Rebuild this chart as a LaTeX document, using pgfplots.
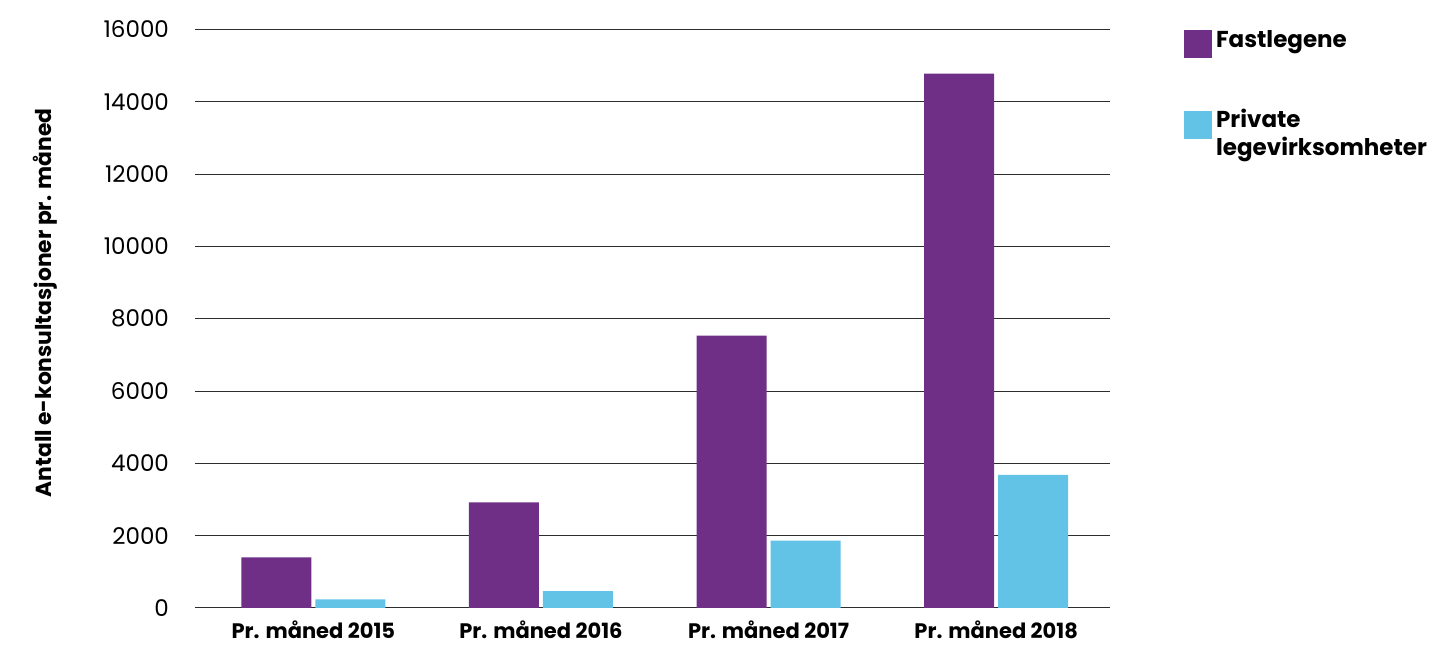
\documentclass[border=0pt]{standalone}
\usepackage{fontspec}
\setmainfont{Poppins}
\usepackage{pgfplots}
\pgfplotsset{compat=1.18}
\definecolor{lila}{RGB}{111,47,135}
\definecolor{cyanb}{RGB}{98,195,230}
\definecolor{gridc}{RGB}{45,45,45}
\begin{document}
\begin{tikzpicture}
\useasboundingbox (-97.5pt,-19pt) rectangle (630pt,304pt);
\begin{axis}[
  at={(0,0)}, anchor=south west,
  scale only axis,
  width=457.5pt, height=289.25pt,
  xmin=-0.52, xmax=3.5,
  ymin=0, ymax=16000,
  ytick={0,2000,...,16000},
  xtick={0,1,2,3},
  xticklabels={Pr. måned 2015, Pr. måned 2016, Pr. måned 2017, Pr. måned 2018},
  x tick label style={font=\bfseries\fontsize{10.5}{12}\selectfont, yshift=-3pt},
  y tick label style={font=\fontsize{11.5}{13}\selectfont, xshift=-9.5pt},
  /pgf/number format/assume math mode=true,
  scaled y ticks=false,
  yticklabel={\pgfmathprintnumber[fixed,1000 sep={}]{\tick}},
  axis line style={draw=none},
  major tick style={draw=none},
  ymajorgrids,
  major grid style={gridc, line width=0.5pt},
  bar width=0.3075,
  legend style={at={(1.081,1.006)}, anchor=north west, draw=none, fill=none,
    inner sep=0pt, outer sep=0pt,
    font=\bfseries\fontsize{11.5}{14}\selectfont,
    row sep=23pt,
    cells={anchor=base west}},
  legend image code/.code={\fill[#1,draw=none] (0pt,-5.5pt) rectangle (14pt,8.5pt);},
]
\addplot[ybar, bar shift=-0.1626, fill=lila, draw=none] coordinates {(0,1400) (1,2920) (2,7530) (3,14780)};
\addlegendentry{Fastlegene}
\addplot[ybar, bar shift=0.1626, fill=cyanb, draw=none] coordinates {(0,240) (1,470) (2,1860) (3,3680)};
\addlegendentry{\begin{tabular}[t]{@{}l@{}}Private\\legevirksomheter\end{tabular}}
\end{axis}
\node[rotate=90, font=\bfseries\fontsize{10.9}{13}\selectfont] at (-75pt,152.5pt) {Antall e-konsultasjoner pr. måned};
\end{tikzpicture}
\end{document}
